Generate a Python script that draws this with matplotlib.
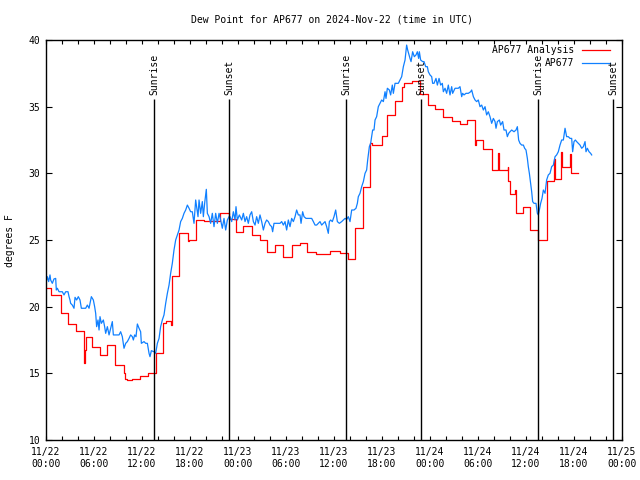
import numpy as np
import matplotlib.pyplot as plt

# hours since 11/22 00:00 UTC
# analysis (stepped, roughly hourly)
red_h = [0.0, 0.67, 1.83, 2.75, 3.75, 4.75, 4.9, 5.04, 5.71, 6.75, 7.67, 8.6, 9.75, 9.9,
         10.1, 10.7, 11.2, 11.8, 12.75, 13.7, 14.6, 15.0, 15.6, 15.8, 16.6, 17.7, 17.9,
         18.7, 19.7, 21.8, 22.9, 23.75, 24.67, 25.7, 26.75, 27.67, 28.6, 29.67, 30.7,
         31.75, 32.67, 33.75, 35.5, 36.75, 37.8, 38.6, 39.67, 40.5, 40.7, 41.96, 42.6,
         43.6, 44.5, 44.8, 45.7, 46.75, 47.8, 48.6, 49.67, 50.7, 51.75, 52.6, 53.6, 53.8,
         54.67, 55.7, 56.5, 56.65, 57.7, 57.8, 58.0, 58.6, 58.75, 59.67, 60.5, 61.5, 62.6,
         63.5, 63.6, 64.4, 64.5, 65.5, 65.6, 66.5]
red_v = [21.4, 20.9, 19.55, 18.7, 18.15, 15.8, 16.75, 17.7, 17.0, 16.4, 17.1, 15.6, 15.0, 14.6,
         14.5, 14.6, 14.55, 14.8, 15.0, 16.5, 18.75, 18.9, 18.6, 22.3, 25.5, 24.9, 25.0,
         26.5, 26.4, 27.0, 26.55, 25.6, 26.05, 25.4, 25.0, 24.1, 24.6, 23.75, 24.6,
         24.8, 24.1, 23.95, 24.2, 24.0, 23.6, 25.9, 29.0, 32.25, 32.1, 32.8, 34.4,
         35.45, 36.45, 36.75, 36.95, 35.95, 35.1, 34.8, 34.25, 33.95, 33.7, 34.0, 32.1, 32.5,
         31.8, 30.25, 31.55, 30.25, 30.5, 29.45, 28.45, 28.75, 27.05, 27.5, 25.75, 25.0, 29.4,
         31.05, 29.6, 31.6, 30.5, 31.45, 30.0, 30.0]

# station observations
blue_h = [0.08, 0.17, 0.33, 0.5, 0.58, 0.79, 1.0, 1.21, 1.29, 1.42, 1.63, 2.04, 2.25, 2.46,
          2.75, 2.88, 3.0, 3.08, 3.29, 3.5, 3.63, 3.83, 4.04, 4.25, 4.42, 4.96, 5.17, 5.38,
          5.67, 5.92, 6.08, 6.21, 6.33, 6.5, 6.63, 6.75, 6.92, 7.17, 7.33, 7.46, 7.67, 7.88,
          8.08, 8.29, 8.42, 8.71, 9.13, 9.33, 9.54, 9.75, 9.96, 10.17, 10.38, 10.58, 10.79,
          10.92, 11.08, 11.25, 11.42, 11.63, 11.83, 11.92, 12.25, 12.46, 12.67, 12.88, 13.0,
          13.17, 13.5, 13.71, 13.92, 14.13, 14.33, 14.54, 14.75, 14.96, 15.17, 15.38, 15.58,
          15.79, 16.0, 16.21, 16.42, 16.63, 16.83, 17.04, 17.25, 17.46, 17.67, 17.88, 18.08,
          18.29, 18.5, 18.71, 18.83, 19.0, 19.13, 19.33, 19.54, 19.67, 19.83, 20.04, 20.17,
          20.38, 20.58, 20.79, 21.0, 21.21, 21.42, 21.63, 21.83, 22.04, 22.25, 22.46, 22.67,
          22.88, 23.0, 23.21, 23.42, 23.63, 23.75, 23.92, 24.17, 24.46, 24.67, 24.88, 25.08,
          25.29, 25.5, 25.71, 25.92, 26.13, 26.33, 26.54, 26.75, 26.96, 27.17, 27.38, 27.58,
          27.79, 28.0, 28.21, 28.33, 28.5, 28.83, 29.25, 29.46, 29.67, 29.88, 30.08, 30.29,
          30.5, 30.71, 30.92, 31.13, 31.33, 31.54, 31.75, 31.88, 32.08, 32.25, 32.5, 32.79,
          33.21, 33.42, 33.63, 33.83, 34.04, 34.25, 34.46, 34.67, 34.88, 35.08, 35.29, 35.42,
          35.58, 35.79, 36.0, 36.21, 36.42, 36.67, 36.96, 37.17, 37.38, 37.58, 37.79, 38.0,
          38.21, 38.5, 38.75, 38.92, 39.04, 39.25, 39.46, 39.67, 39.88, 40.08, 40.21, 40.42,
          40.58, 40.83, 41.0, 41.13, 41.33, 41.54, 41.75, 41.96, 42.17, 42.38, 42.5, 42.67,
          42.92, 43.08, 43.29, 43.42, 43.63, 43.83, 44.04, 44.25, 44.46, 44.67, 44.88, 45.08,
          45.21, 45.38, 45.5, 45.63, 45.83, 46.04, 46.25, 46.42, 46.58, 46.67, 46.83, 47.08,
          47.25, 47.46, 47.67, 47.79, 48.0, 48.21, 48.33, 48.5, 48.75, 48.92, 49.13, 49.33,
          49.54, 49.67, 49.88, 50.08, 50.29, 50.5, 50.71, 50.83, 51.13, 51.54, 51.75, 51.96,
          52.08, 52.25, 52.5, 52.79, 53.08, 53.21, 53.42, 53.63, 53.83, 54.04, 54.25, 54.46,
          54.67, 54.88, 55.08, 55.29, 55.5, 55.71, 55.92, 56.13, 56.25, 56.42, 56.67, 56.83,
          57.08, 57.25, 57.5, 57.67, 57.83, 58.0, 58.21, 58.5, 58.75, 58.92, 59.08, 59.25,
          59.46, 59.67, 59.83, 60.0, 60.17, 60.29, 60.42, 60.58, 60.71, 60.83, 61.0, 61.25,
          61.42, 61.54, 61.67, 61.83, 62.0, 62.17, 62.38, 62.58, 62.79, 63.0, 63.21, 63.42,
          63.63, 63.83, 64.04, 64.25, 64.46, 64.67, 64.88, 65.08, 65.29, 65.5, 65.71, 65.83,
          66.0, 66.17, 66.33, 66.54, 66.75, 66.96, 67.17, 67.38, 67.5, 67.67, 67.88, 68.08,
          68.21]
blue_v = [22.0, 22.25, 21.88, 22.38, 22.0, 21.75, 22.08, 22.12, 21.25, 21.38, 21.12, 21.12, 20.88, 21.12,
          21.12, 20.75, 20.5, 20.25, 20.12, 19.88, 20.7, 20.5, 20.75, 20.5, 19.88, 19.88, 20.12, 19.88,
          20.75, 20.5, 20.0, 19.5, 18.5, 19.0, 18.25, 19.25, 18.75, 19.0, 18.5, 18.0, 18.5, 17.88,
          18.38, 18.88, 17.88, 17.88, 17.88, 18.12, 17.75, 16.88, 17.25, 17.38, 17.62, 17.88, 17.75,
          17.5, 17.88, 17.75, 18.7, 18.38, 18.12, 17.25, 17.38, 17.25, 17.25, 16.5, 16.25,
          16.7, 16.62, 16.5, 17.25, 17.62, 18.5, 19.0, 19.38, 20.25, 21.0, 21.62, 22.5,
          23.25, 24.25, 25.0, 25.38, 25.75, 26.38, 26.62, 27.0, 27.25, 27.62, 27.38, 27.12,
          27.12, 26.25, 28.0, 27.5, 26.75, 28.0, 27.0, 27.88, 26.75, 27.75, 28.8, 27.0,
          26.75, 26.25, 27.0, 26.0, 27.0, 26.25, 27.0, 26.5, 25.88, 26.62, 25.75, 26.5,
          26.75, 26.75, 26.38, 27.12, 26.5, 27.5, 26.5, 26.88, 26.5, 27.0, 26.38, 26.75,
          26.25, 26.88, 27.12, 26.38, 26.12, 26.75, 26.25, 26.88, 26.38, 25.75, 26.25, 26.5,
          26.38, 26.12, 26.0, 25.62, 26.25, 26.25, 26.25, 26.38, 26.12, 26.38, 25.75, 26.5,
          26.0, 26.62, 26.38, 26.75, 27.25, 26.88, 26.88, 26.25, 27.12, 26.75, 26.62, 26.62,
          26.62, 26.38, 26.12, 26.12, 26.25, 26.38, 26.12, 26.25, 26.38, 26.0, 25.5, 26.38,
          26.5, 26.38, 26.75, 27.25, 26.38, 26.25, 26.38, 26.5, 26.62, 26.55, 26.75, 26.38,
          27.25, 27.25, 27.38, 27.75, 28.25, 28.5, 29.0, 29.38, 30.0, 30.25, 31.0, 32.0,
          32.25, 33.25, 33.25, 34.0, 34.25, 35.0, 35.25, 35.5, 35.38, 36.12, 35.62, 36.38,
          36.25, 35.88, 36.62, 36.0, 36.75, 36.75, 36.75, 37.0, 37.25, 38.0, 38.5, 39.62,
          39.25, 38.88, 38.62, 38.38, 39.12, 38.75, 38.88, 39.12, 38.62, 39.12, 38.5, 38.38,
          38.38, 38.0, 38.0, 37.62, 37.38, 37.25, 36.75, 36.75, 37.12, 36.62, 37.12, 36.62,
          36.75, 36.12, 36.38, 36.0, 36.62, 35.88, 36.5, 36.0, 36.38, 36.38, 36.5, 35.75,
          36.0, 35.88, 36.0, 36.0, 36.12, 36.25, 35.75, 35.5, 35.38, 35.5, 35.0, 35.12,
          34.75, 35.0, 34.38, 34.62, 34.25, 33.75, 34.12, 33.88, 33.38, 33.88, 34.0, 33.62,
          33.88, 33.25, 33.25, 32.75, 33.0, 33.12, 33.25, 33.12, 33.25, 33.5, 32.5, 32.25,
          32.12, 32.12, 31.88, 31.75, 31.12, 30.5, 30.0, 29.25, 28.62, 27.88, 27.75, 27.75,
          27.0, 26.88, 27.25, 27.75, 28.12, 28.75, 28.5, 29.5, 29.88, 30.0, 30.5, 30.62,
          31.25, 31.38, 31.62, 32.12, 32.5, 32.5, 33.38, 32.75, 32.75, 32.62, 32.62, 31.62,
          32.38, 32.5, 32.38, 32.25, 32.12, 31.88, 32.0, 32.38, 31.62, 31.88, 31.62, 31.5,
          31.38]

sunrise = [13.54, 37.55, 61.55]
sunset = [22.92, 46.93, 70.9]

tick_hours = list(range(0, 73, 6))
tick_labels = ['11/22\n00:00', '11/22\n06:00', '11/22\n12:00', '11/22\n18:00',
               '11/23\n00:00', '11/23\n06:00', '11/23\n12:00', '11/23\n18:00',
               '11/24\n00:00', '11/24\n06:00', '11/24\n12:00', '11/24\n18:00',
               '11/25\n00:00']

plt.rcParams['font.family'] = 'DejaVu Sans Mono'
plt.rcParams['font.size'] = 7

fig = plt.figure(figsize=(6.4, 4.8), dpi=100)
ax = fig.add_axes([46/640, 40/480, 576/640, 400/480])

red_col = '#ff0000'
blue_col = '#1080ff'

ax.plot(red_h, red_v, drawstyle='steps-post', color=red_col, lw=0.9)
ax.plot(blue_h, blue_v, color=blue_col, lw=0.9)

line_top = 35.6
ax.vlines(sunrise + sunset, 10, line_top, color='black', lw=1)
for h in sunrise:
    ax.text(h, line_top + 0.3, 'Sunrise', rotation=90, ha='center', va='bottom')
for h in sunset:
    ax.text(h, line_top + 0.3, 'Sunset', rotation=90, ha='center', va='bottom')

ax.set_xlim(0, 72)
ax.set_ylim(10, 40)
ax.set_xticks(tick_hours)
ax.set_xticklabels(tick_labels)
ax.set_xticks(range(0, 73, 2), minor=True)
ax.set_yticks(range(10, 41, 5))
ax.tick_params(axis='x', which='both', direction='in', top=True, length=3, width=0.8, pad=5)
ax.tick_params(axis='y', direction='in', right=True, length=4, width=0.8, pad=4)
for s in ax.spines.values():
    s.set_linewidth(1)

fig.text(332/640, 1 - 20/480, 'Dew Point for AP677 on 2024-Nov-22 (time in UTC)',
         ha='center', va='center', fontsize=7)
fig.text(10/640, 1 - 241/480, 'degrees F', rotation=90, ha='center', va='center')

# legend, gnuplot style (text right aligned, sample to the right)
ax.text(0.9167, 0.975, 'AP677 Analysis', transform=ax.transAxes, ha='right', va='center')
ax.text(0.9167, 0.943, 'AP677', transform=ax.transAxes, ha='right', va='center')
ax.plot([0.930, 0.979], [0.975, 0.975], color=red_col, lw=0.9, transform=ax.transAxes)
ax.plot([0.930, 0.979], [0.943, 0.943], color=blue_col, lw=0.9, transform=ax.transAxes)

fig.savefig('out.png', dpi=100)
